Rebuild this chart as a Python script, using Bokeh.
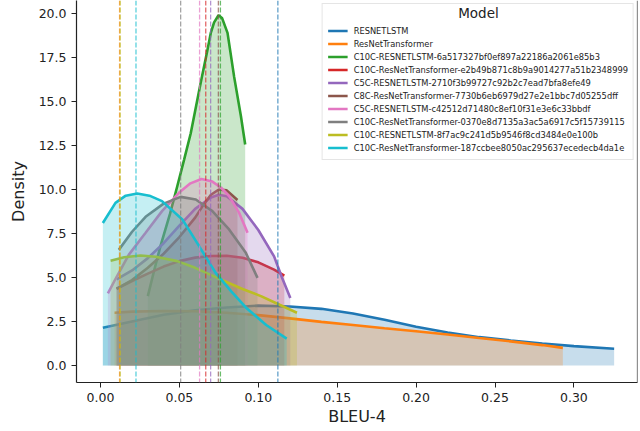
from bokeh.plotting import figure
from bokeh.models import Range1d, FixedTicker, NumeralTickFormatter, Span, Legend, LegendItem, Label
from bokeh.embed import file_html
from bokeh.resources import INLINE

models = [
    "RESNETLSTM",
    "ResNetTransformer",
    "C10C-RESNETLSTM-6a517327bf0ef897a22186a2061e85b3",
    "C10C-ResNetTransformer-e2b49b871c8b9a9014277a51b2348999",
    "C5C-RESNETLSTM-2710f3b99727c92b2c7ead7bfa8efe49",
    "C8C-ResNetTransformer-7730b6eb6979d27e2e1bbc7d05255dff",
    "C5C-RESNETLSTM-c42512d71480c8ef10f31e3e6c33bbdf",
    "C10C-ResNetTransformer-0370e8d7135a3ac5a6917c5f15739115",
    "C10C-RESNETLSTM-8f7ac9c241d5b9546f8cd3484e0e100b",
    "C10C-ResNetTransformer-187ccbee8050ac295637ecedecb4da1e",
]
colors = ["#1f77b4", "#ff7f0e", "#2ca02c", "#d62728", "#9467bd",
          "#8c564b", "#e377c2", "#7f7f7f", "#bcbd22", "#17becf"]

# BLEU-4 values and density values
bleu_m0 = [0.0015, 0.02, 0.04, 0.06, 0.08, 0.10, 0.12, 0.14, 0.16, 0.18, 0.20, 0.22, 0.24, 0.26, 0.28, 0.30, 0.3255]
dens_m0 = [2.14, 2.5, 2.88, 3.14, 3.3, 3.4, 3.35, 3.22, 2.95, 2.6, 2.2, 1.87, 1.61, 1.42, 1.25, 1.1, 0.95]

bleu_m1 = [0.0089, 0.02, 0.04, 0.06, 0.08, 0.10, 0.12, 0.14, 0.16, 0.18, 0.20, 0.22, 0.24, 0.26, 0.28, 0.293]
dens_m1 = [3.0, 3.06, 3.1, 3.08, 3.0, 2.86, 2.68, 2.48, 2.3, 2.12, 1.95, 1.76, 1.56, 1.37, 1.16, 1.0]

bleu_m2 = [0.030, 0.034, 0.038, 0.044, 0.0487, 0.053, 0.0572, 0.0635, 0.0675, 0.0699, 0.072, 0.0748, 0.077, 0.0805, 0.0847, 0.089, 0.0917]
dens_m2 = [3.94, 5.4, 6.78, 8.6, 10.2, 11.7, 13.2, 16.06, 17.8, 18.9, 19.5, 19.9, 19.75, 18.9, 16.4, 14.16, 12.56]

bleu_m3 = [0.0102, 0.02, 0.03, 0.04, 0.05, 0.06, 0.07, 0.08, 0.09, 0.10, 0.11, 0.1165]
dens_m3 = [4.36, 4.8, 5.22, 5.62, 5.93, 6.13, 6.22, 6.24, 6.12, 5.86, 5.45, 5.11]

bleu_m4 = [0.0102, 0.02, 0.03, 0.04, 0.05, 0.06, 0.07, 0.075, 0.08, 0.09, 0.10, 0.11, 0.115, 0.1203]
dens_m4 = [4.89, 5.4, 6.1, 6.95, 7.95, 8.9, 9.55, 9.7, 9.62, 8.9, 7.7, 6.2, 5.0, 3.84]

bleu_m5 = [0.0102, 0.02, 0.03, 0.04, 0.05, 0.06, 0.065, 0.07, 0.075, 0.08, 0.0868]
dens_m5 = [4.36, 4.85, 5.55, 6.35, 7.3, 8.4, 9.1, 9.7, 10.0, 9.95, 9.4]

bleu_m6 = [0.0047, 0.01, 0.018, 0.0286, 0.039, 0.0497, 0.057, 0.064, 0.0709, 0.0765, 0.0815, 0.0879, 0.0932]
dens_m6 = [4.1, 5.0, 6.3, 7.54, 8.77, 9.81, 10.35, 10.6, 10.45, 10.1, 9.62, 8.67, 7.54]

bleu_m7 = [0.0116, 0.02, 0.0286, 0.04, 0.0508, 0.0604, 0.0709, 0.0815, 0.0921, 0.0995]
dens_m7 = [6.57, 7.6, 8.45, 9.2, 9.58, 9.43, 8.77, 7.73, 6.4, 4.98]

bleu_m8 = [0.0064, 0.015, 0.0254, 0.035, 0.0487, 0.06, 0.0762, 0.09, 0.1017, 0.1135, 0.1245]
dens_m8 = [5.95, 6.15, 6.25, 6.18, 5.93, 5.55, 4.89, 4.35, 3.94, 3.45, 3.0]

bleu_m9 = [0.0015, 0.0095, 0.016, 0.0233, 0.031, 0.039, 0.0519, 0.0625, 0.073, 0.083, 0.0921, 0.105, 0.118]
dens_m9 = [8.1, 9.24, 9.65, 9.77, 9.65, 9.34, 8.3, 6.78, 5.26, 4.2, 3.3, 2.3, 1.53]

# dashed reference lines (BLEU-4 of each density peak)
peak_bleu = [0.1124, 0.0121, 0.0760, 0.0667, 0.0698, 0.0747, 0.0628, 0.0508, 0.0125, 0.0225]

x_ticks = [0.0, 0.05, 0.10, 0.15, 0.20, 0.25, 0.30]
y_ticks = [0.0, 2.5, 5.0, 7.5, 10.0, 12.5, 15.0, 17.5, 20.0]

bleu_all = [bleu_m0, bleu_m1, bleu_m2, bleu_m3, bleu_m4, bleu_m5, bleu_m6, bleu_m7, bleu_m8, bleu_m9]
dens_all = [dens_m0, dens_m1, dens_m2, dens_m3, dens_m4, dens_m5, dens_m6, dens_m7, dens_m8, dens_m9]

FONT = "DejaVu Sans"

p = figure(width=640, height=431, output_backend="svg", toolbar_location=None,
           x_range=Range1d(-0.0152, 0.3403), y_range=Range1d(-0.966, 20.74),
           min_border_left=76, min_border_right=3, min_border_top=0, min_border_bottom=49)
p.background_fill_color = "white"
p.border_fill_color = "white"
p.outline_line_color = None
p.xgrid.grid_line_color = None
p.ygrid.grid_line_color = None

items = []
for name, col, xs, ds in zip(models, colors, bleu_all, dens_all):
    p.varea(x=xs, y1=[0] * len(xs), y2=ds, fill_color=col, fill_alpha=0.25)
    r = p.line(xs, ds, line_color=col, line_width=2.6)
    items.append(LegendItem(label=name, renderers=[r]))

for col, xv in zip(colors, peak_bleu):
    p.add_layout(Span(location=xv, dimension="height", line_color=col,
                      line_dash="5 2", line_width=1.3, line_alpha=0.7))

# right spine
p.add_layout(Span(location=0.3403, dimension="height", line_color="#222222", line_width=1.2))

for ax in (p.xaxis, p.yaxis):
    ax.axis_line_color = "#222222"
    ax.axis_line_width = 1.2
    ax.major_tick_line_color = "#222222"
    ax.major_tick_in = 0
    ax.major_tick_out = 5
    ax.minor_tick_line_color = None
    ax.major_label_text_font = FONT
    ax.major_label_text_font_size = "12.5px"
    ax.major_label_text_color = "#222222"
    ax.axis_label_text_font = FONT
    ax.axis_label_text_font_size = "16px"
    ax.axis_label_text_font_style = "normal"
    ax.axis_label_text_color = "#222222"

p.xaxis.ticker = FixedTicker(ticks=x_ticks)
p.yaxis.ticker = FixedTicker(ticks=y_ticks)
p.xaxis.formatter = NumeralTickFormatter(format="0.00")
p.yaxis.formatter = NumeralTickFormatter(format="0.0")
p.xaxis.axis_label = "BLEU-4"
p.yaxis.axis_label = "Density"
p.xaxis.axis_label_standoff = 2
p.yaxis.axis_label_standoff = 8

legend = Legend(items=items, location="top_right")
legend.title = " "
legend.title_text_font_size = "13.5px"
legend.title_standoff = 0
legend.label_text_font = FONT
legend.label_text_font_size = "8.3px"
legend.label_text_color = "#222222"
legend.label_height = 13
legend.glyph_height = 13
legend.glyph_width = 20
legend.label_standoff = 6
legend.spacing = 0
legend.padding = 5
legend.margin = 3
legend.border_line_color = "#cccccc"
legend.border_line_width = 1
legend.background_fill_alpha = 0.0
p.add_layout(legend)

p.add_layout(Label(x=0.2395, y=20.02, text="Model", text_align="center", text_baseline="middle",
                   text_font=FONT, text_font_size="13.5px", text_color="#222222"))

open("out.html", "w").write(file_html(p, INLINE))
